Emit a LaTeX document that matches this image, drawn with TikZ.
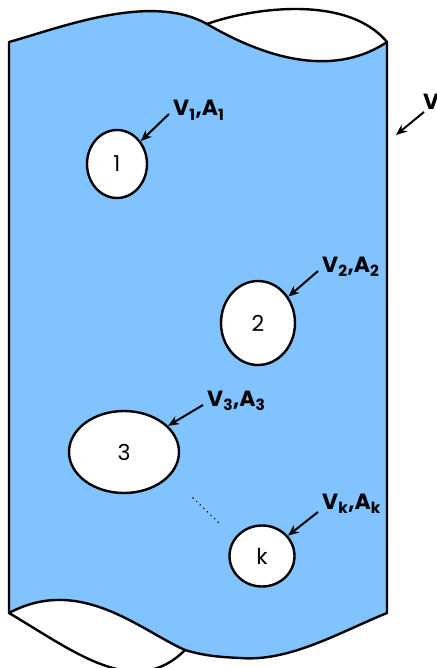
\documentclass[tikz,border=0pt]{standalone}
\usepackage{fontspec}
\setmainfont{Poppins}
\usetikzlibrary{shapes.geometric, arrows.meta}
\definecolor{bodyblue}{RGB}{128,195,255}
\tikzset{
  hole/.style={ellipse, draw, line width=2.4pt, fill=white, inner sep=0pt, font=\fontsize{22}{26}\selectfont},
  tag/.style={anchor=base west, inner sep=0pt, font=\bfseries\fontsize{22}{26}\selectfont},
  pointer/.style={line width=2pt, -{Stealth[length=11pt,width=9pt]}},
}
\begin{document}
\begin{tikzpicture}[x=1pt,y=-1pt]
\useasboundingbox (0,0) rectangle (436,668);
\draw[line width=2.4pt, fill=bodyblue, line join=round] (9,42) .. controls (60,28) and (150,-8) .. (207,24)
  .. controls (260,55) and (330,80) .. (387,42) -- (387,613)
  .. controls (340,632) and (290,662) .. (240,658)
  .. controls (220,657) and (205,656) .. (185,650)
  .. controls (140,630) and (80,575) .. (9,613) -- cycle;
\draw[line width=2.4pt] (207,24) .. controls (245,10) and (345,-8) .. (387,42);
\draw[line width=2.4pt] (9,613) .. controls (75,652) and (135,700) .. (185,650);
\node[hole, minimum width=60pt, minimum height=68pt] (h1) at (117,164) {1};
\node[hole, minimum width=74pt, minimum height=84pt] (h2) at (258,323) {2};
\node[hole, minimum width=110pt, minimum height=82pt] (h3) at (124,452) {3};
\node[hole, minimum width=65pt, minimum height=61pt] (hk) at (262,556) {k};
\node[tag] (l1) at (173,116) {V\textsubscript{1},A\textsubscript{1}};
\node[tag] (l2) at (322,272) {V\textsubscript{2},A\textsubscript{2}};
\node[tag] (l3) at (207,406) {V\textsubscript{3},A\textsubscript{3}};
\node[tag] (lk) at (322,509) {V\textsubscript{k},A\textsubscript{k}};
\node[tag] (lv) at (423,110) {V};
\coordinate (vtip) at (396,135);
\draw[pointer] ([xshift=-4pt,yshift=2pt]l1.base west) -- (h1);
\draw[pointer] ([xshift=-4pt,yshift=1pt]l2.base west) -- (h2);
\draw[pointer] ([xshift=-4pt,yshift=1pt]l3.base west) -- (h3);
\draw[pointer] ([xshift=-4pt,yshift=-3pt]lk.base west) -- (hk);
\draw[pointer] ([xshift=1pt,yshift=-2pt]lv.base west) -- (vtip);
\draw[line width=1.6pt, line cap=round, dash pattern=on 0pt off 5pt] (193,498) -- (219,523);
\end{tikzpicture}
\end{document}
